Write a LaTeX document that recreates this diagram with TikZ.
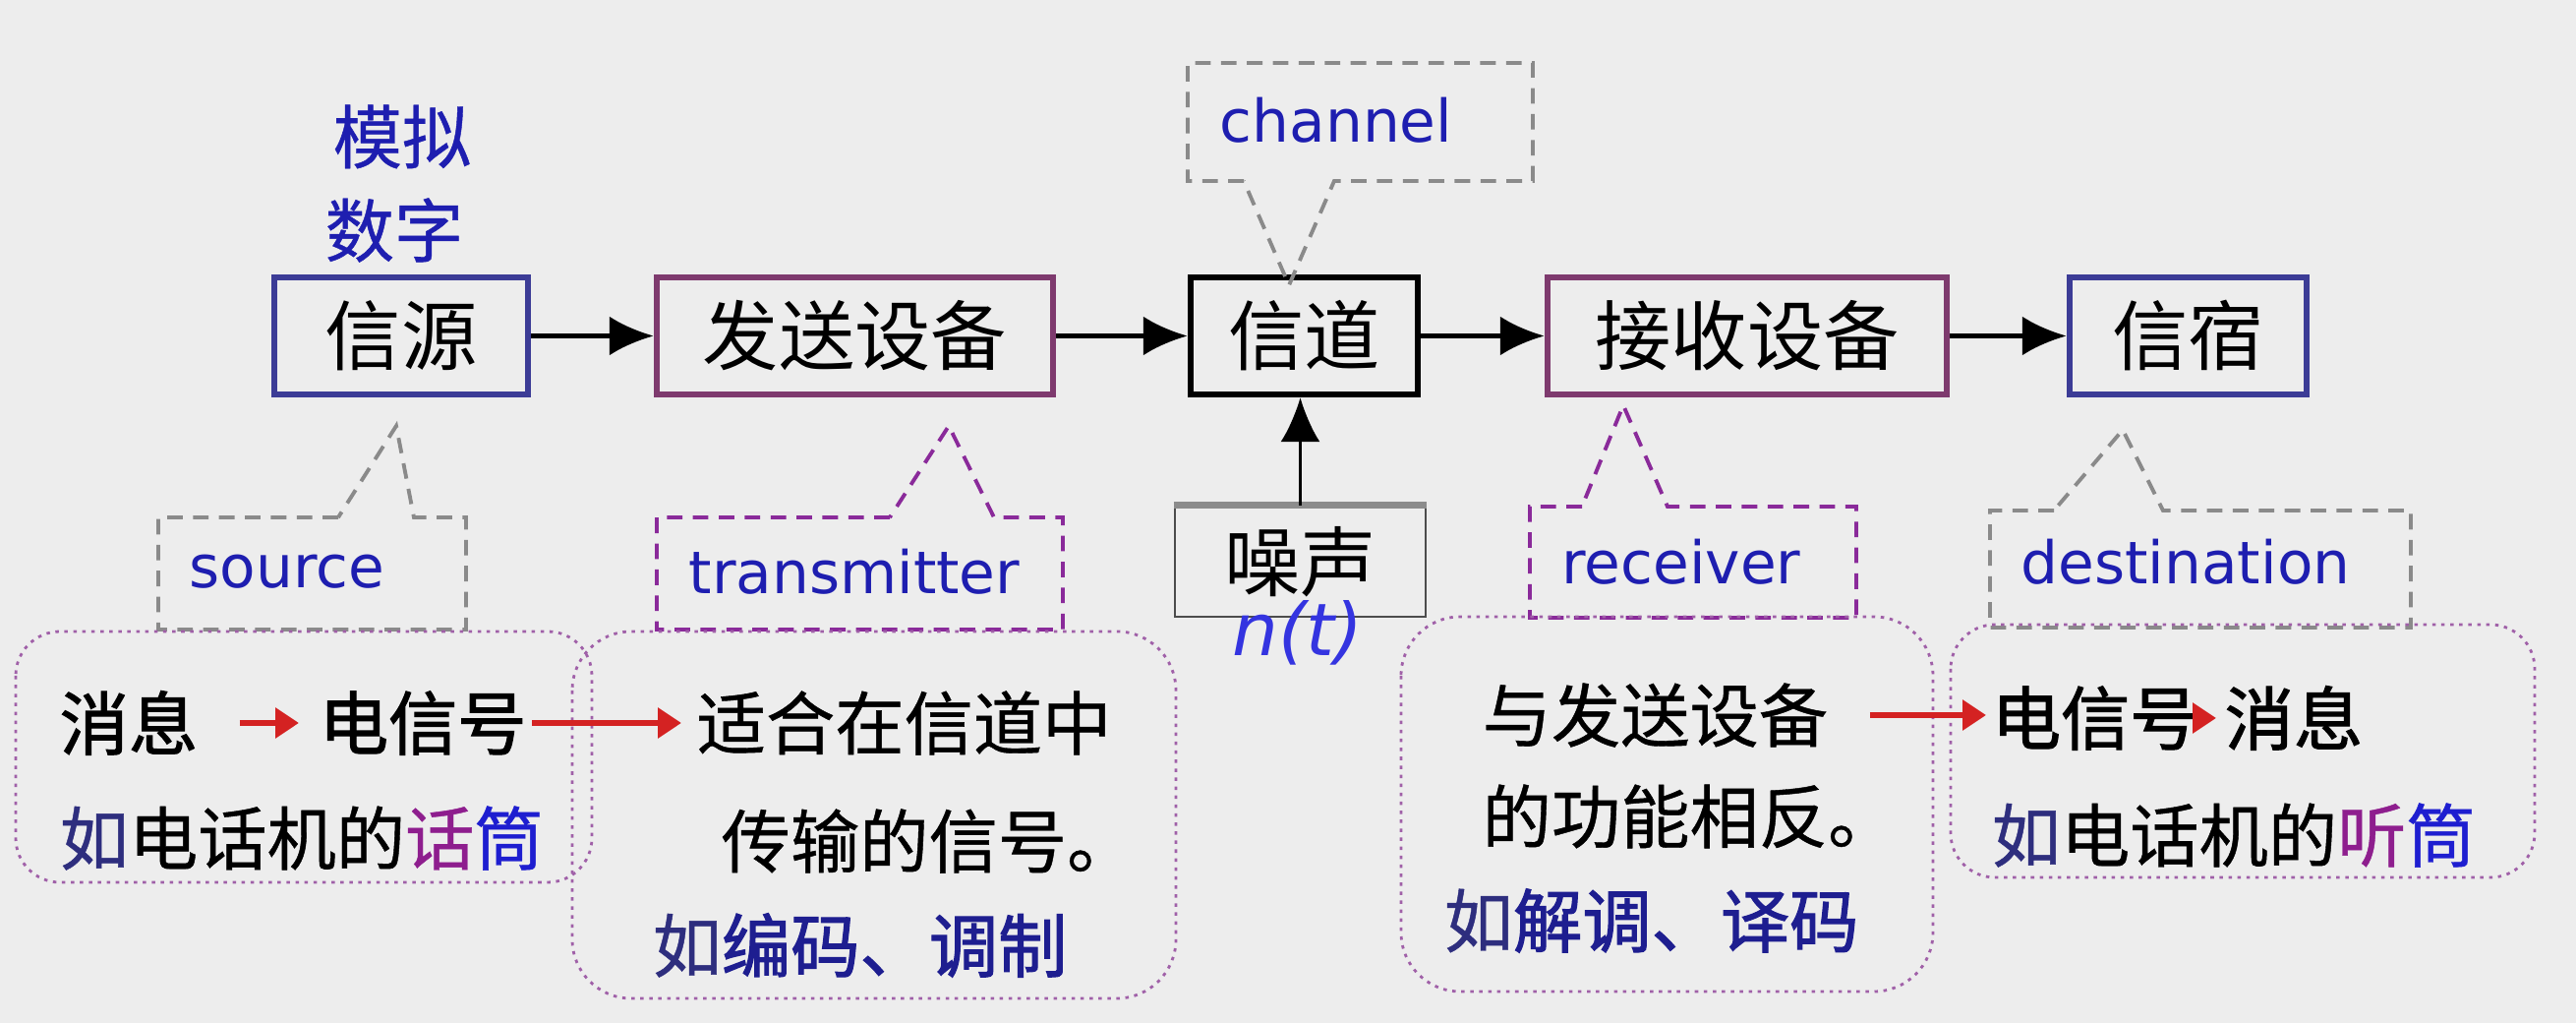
\documentclass[tikz,border=0pt]{standalone}
\usepackage{fontspec}
\setmainfont{DejaVu Sans}
\newfontfamily\cjk{Noto Sans CJK SC}
\newfontfamily\cjkd[FakeBold=0.6]{Noto Sans CJK SC}
\newfontfamily\cjkb[FakeBold=1.6]{Noto Sans CJK SC}
\usepackage{xcolor}
\usetikzlibrary{arrows.meta,positioning,calc}

\definecolor{bggray}{HTML}{EDEDED}
\definecolor{srcblue}{HTML}{3C3C96}
\definecolor{txmaroon}{HTML}{7E3A6E}
\definecolor{labblue}{HTML}{1E1EB0}
\definecolor{ntblue}{HTML}{3434E0}
\definecolor{navy}{HTML}{2E2E7E}
\definecolor{deepblue}{HTML}{1E1E90}
\definecolor{micpurple}{HTML}{8E1E8E}
\definecolor{micblue}{HTML}{1E1ED0}
\definecolor{callgray}{HTML}{8A8A8A}
\definecolor{callpurple}{HTML}{8A2A9A}
\definecolor{dotpurple}{HTML}{A060A8}
\definecolor{arrred}{HTML}{D42222}

\begin{document}
\begin{tikzpicture}[
  blk/.style={draw, line width=1.8pt, minimum height=1.19cm, inner sep=0pt,
    font=\cjk\fontsize{22}{26}\selectfont},
  flow/.style={-{Latex[length=0.45cm,width=0.4cm]}, line width=1.5pt},
  redflow/.style={-{Triangle[length=0.24cm,width=0.3cm]}, line width=1.8pt, arrred},
  call/.style={line width=1.1pt, dash pattern=on 4.5pt off 3pt},
  calltxt/.style={labblue, font=\fontsize{17}{20}\selectfont},
  note/.style={draw=dotpurple, line width=0.8pt, dash pattern=on 1pt off 1.6pt,
    rounded corners=0.45cm},
  desc/.style={anchor=west, inner sep=0pt, font=\cjkd\fontsize{20}{24}\selectfont},
  descb/.style={desc, font=\cjkb\fontsize{20}{24}\selectfont}
]
  % Background and page size
  \fill[bggray] (0,0) rectangle (26.2,-10.4);
  \useasboundingbox (0,0) rectangle (26.2,-10.4);

  % The chain of blocks
  \node[blk, draw=srcblue, minimum width=2.58cm] (src) at (4.08,-3.415) {信源};
  \node[blk, draw=txmaroon, minimum width=4.03cm] (tx) at (8.695,-3.415) {发送设备};
  \node[blk, draw=black, minimum width=2.31cm] (chan) at (13.265,-3.415) {信道};
  \node[blk, draw=txmaroon, minimum width=4.06cm] (rx) at (17.77,-3.415) {接收设备};
  \node[blk, draw=srcblue, minimum width=2.41cm] (dst) at (22.255,-3.415) {信宿};

  \draw[flow] (src) -- (tx);
  \draw[flow] (tx) -- (chan);
  \draw[flow] (chan) -- (rx);
  \draw[flow] (rx) -- (dst);

  % Source kinds
  \node[labblue, font=\cjkd\fontsize{20}{24}\selectfont] (kind1) at (4.09,-1.39) {模拟};
  \node[labblue, font=\cjkd\fontsize{20}{24}\selectfont] (kind2) at (4.01,-2.34) {数字};

  % Noise
  \node[draw=black!70, line width=0.6pt, minimum width=2.55cm, minimum height=1.12cm,
    font=\cjk\fontsize{22}{26}\selectfont] (noise) at (13.225,-5.71) {噪声};
  \draw[black!45, line width=2pt] (noise.north west) -- (noise.north east);
  \draw[flow, line width=1pt] (noise.north) -- (noise.north |- chan.south);
  \node[ntblue, font=\fontsize{21}{24}\selectfont\itshape] (nt) at (13.20,-6.43) {n(t)};

  % Callouts
  \draw[call, callgray] (12.65,-1.84) -- (12.08,-1.84) -- (12.08,-0.64) -- (15.59,-0.64)
    -- (15.59,-1.84) -- (13.57,-1.84) -- (13.11,-2.90) -- cycle;
  \node[calltxt] (chantxt) at (13.59,-1.22) {channel};

  \draw[call, callgray] (3.44,-5.26) -- (1.61,-5.26) -- (1.61,-6.40) -- (4.74,-6.40)
    -- (4.74,-5.26) -- (4.21,-5.26) -- (4.03,-4.33) -- cycle;
  \node[calltxt] (srctxt) at (2.92,-5.81) {source};

  \draw[call, callpurple] (9.05,-5.26) -- (6.68,-5.26) -- (6.68,-6.40) -- (10.81,-6.40)
    -- (10.81,-5.26) -- (10.11,-5.26) -- (9.65,-4.33) -- cycle;
  \node[calltxt] (txtxt) at (8.69,-5.81) {transmitter};

  \draw[call, callpurple] (16.09,-5.15) -- (15.56,-5.15) -- (15.56,-6.28) -- (18.88,-6.28)
    -- (18.88,-5.15) -- (16.96,-5.15) -- (16.51,-4.12) -- cycle;
  \node[calltxt] (rxtxt) at (17.10,-5.71) {receiver};

  \draw[call, callgray] (20.89,-5.19) -- (20.24,-5.19) -- (20.24,-6.38) -- (24.52,-6.38)
    -- (24.52,-5.19) -- (22.00,-5.19) -- (21.59,-4.37) -- cycle;
  \node[calltxt] (dsttxt) at (22.23,-5.71) {destination};

  % Notes under the blocks
  \draw[note] (0.16,-6.42) rectangle (6.02,-8.97);
  \draw[note, rounded corners=0.6cm] (5.82,-6.42) rectangle (11.96,-10.15);
  \draw[note, rounded corners=0.6cm] (14.25,-6.27) rectangle (19.66,-10.08);
  \draw[note] (19.84,-6.35) rectangle (25.78,-8.92);

  \node[descb] (msgA) at (0.60,-7.35) {消息};
  \node[descb] (sigA) at (3.24,-7.35) {电信号};
  \node[desc] (exA) at (0.60,-8.52) {{\color{navy}如}电话机的{\color{micpurple}话}{\color{micblue}筒}};

  \node[desc] (fitB) at (7.08,-7.35) {适合在信道中};
  \node[desc] (fitB2) at (7.33,-8.55) {传输的信号。};
  \node[desc] (exB) at (6.63,-9.61) {{\color{navy}如}{\color{deepblue}\cjkb 编码、调制}};

  \node[desc] (revC) at (15.07,-7.27) {与发送设备};
  \node[desc] (revC2) at (15.07,-8.30) {的功能相反。};
  \node[desc] (exC) at (14.68,-9.36) {{\color{navy}如}{\color{deepblue}\cjkb 解调、译码}};

  \node[descb] (sigD) at (20.25,-7.30) {电信号};
  \node[descb] (msgD) at (22.62,-7.30) {消息};
  \node[desc] (exD) at (20.25,-8.49) {{\color{navy}如}电话机的{\color{micpurple}听}{\color{micblue}筒}};

  % Red arrows in the notes
  \draw[redflow, shorten <=0.42cm, shorten >=0.2cm] (msgA.east) -- (sigA.west);
  \draw[redflow, shorten <=0.05cm, shorten >=0.15cm] (sigA.east) -- (sigA.east -| fitB.west);
  \draw[redflow, shorten <=0.42cm, shorten >=0.05cm] (revC.east) -- (revC.east -| sigD.west);
  \draw[redflow, shorten <=0.03cm, shorten >=0.08cm] (sigD.east) -- (msgD.west);
\end{tikzpicture}
\end{document}
